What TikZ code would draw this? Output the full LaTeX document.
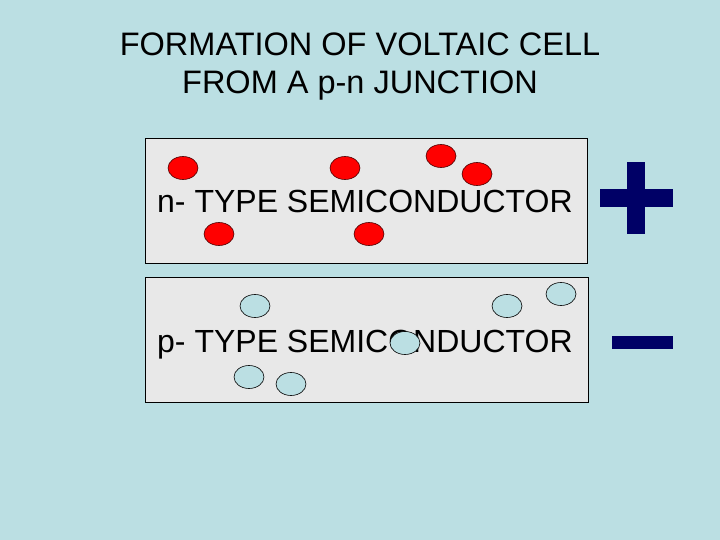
\documentclass[tikz,border=0pt]{standalone}
\usepackage{fontspec}
\setmainfont{Liberation Sans}
\usetikzlibrary{shapes.geometric}
\definecolor{bg}{HTML}{BBDFE3}
\definecolor{boxfill}{HTML}{E8E8E8}
\definecolor{navy}{HTML}{000066}
\definecolor{elec}{HTML}{FF0000}
\begin{document}
\begin{tikzpicture}[x=1pt,y=-1pt,
  panel/.style={draw=black,line width=0.8pt,fill=boxfill},
  electron/.style={ellipse,draw=black!70!red,line width=0.6pt,fill=elec,minimum width=30pt,minimum height=23pt,inner sep=0pt},
  hole/.style={ellipse,draw=black,line width=0.6pt,fill=bg,minimum width=30pt,minimum height=23pt,inner sep=0pt},
  label/.style={font=\fontsize{32}{36}\selectfont,anchor=base west,inner sep=0pt},
  signbar/.style={fill=navy,draw=none}]
\useasboundingbox (0,0) rectangle (720,540);
\fill[bg] (0,0) rectangle (720,540);
\node[align=center,font=\fontsize{32.5}{38}\selectfont] (title) at (360,67) {FORMATION OF VOLTAIC CELL\\FROM A p-n JUNCTION};
% n-type panel
\draw[panel] (145,138) rectangle (587,263);
\node[label] (ntext) at (157,213) {n- TYPE SEMICONDUCTOR};
\node[electron] (e1) at (183,168) {};
\node[electron] (e2) at (345,168) {};
\node[electron] (e3) at (441,156) {};
\node[electron] (e4) at (477,174) {};
\node[electron] (e5) at (219,234) {};
\node[electron] (e6) at (369,234) {};
% p-type panel
\draw[panel] (145,277) rectangle (588,402);
\node[label] (ptext) at (157,352) {p- TYPE SEMICONDUCTOR};
\node[hole] (h1) at (255,306) {};
\node[hole] (h2) at (507,306) {};
\node[hole] (h3) at (561,294) {};
\node[hole] (h4) at (405,343) {};
\node[hole] (h5) at (249,377) {};
\node[hole] (h6) at (291,384) {};
% signs
\fill[signbar] (626.7,161.7) rectangle (645,234);
\fill[signbar] (600,189.3) rectangle (673.3,206.7);
\fill[signbar] (611.7,335.7) rectangle (672.7,349);
\end{tikzpicture}
\end{document}
